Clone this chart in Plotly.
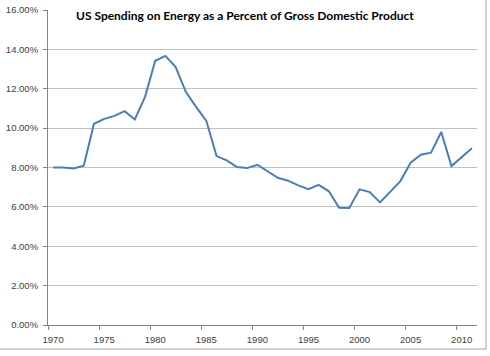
import plotly.graph_objects as go

years = list(range(1970, 2012))
energy_pct = [8.00, 8.00, 7.95, 8.09, 10.22, 10.47, 10.62, 10.86, 10.44, 11.59,
              13.42, 13.67, 13.10, 11.83, 11.08, 10.37, 8.58, 8.36, 8.02, 7.97,
              8.14, 7.83, 7.48, 7.33, 7.09, 6.90, 7.12, 6.79, 5.96, 5.94,
              6.89, 6.75, 6.23, 6.76, 7.31, 8.24, 8.65, 8.75, 9.80, 8.07,
              8.53, 8.98]
tick_years = [1970, 1975, 1980, 1985, 1990, 1995, 2000, 2005, 2010]
title_text = "US Spending on Energy as a Percent of Gross Domestic Product"

values = [v / 100 for v in energy_pct]

fig = go.Figure()
fig.add_trace(go.Scatter(x=years, y=values, mode="lines",
                         line=dict(color="#4A7EBB", width=2), showlegend=False))

W, H = 490, 356
l, r, t, b = 48, 13, 10, 31
pw, ph = W - l - r, H - t - b

fig.update_layout(
    width=W, height=H,
    margin=dict(l=l, r=r, t=t, b=b, autoexpand=False),
    paper_bgcolor="white", plot_bgcolor="white",
    font=dict(family="Liberation Sans, Arial, sans-serif", size=9.5, color="#404040"),
    annotations=[dict(text="<b>" + title_text + "</b>", xref="paper", yref="paper",
                      x=(245 - l) / pw, y=(H - b - 15) / ph, xanchor="center", yanchor="middle",
                      showarrow=False, font=dict(family="Lato, sans-serif", size=12, color="black"))],
    shapes=[
        dict(type="line", xref="paper", yref="paper",
             x0=(486 - l) / pw, x1=(486 - l) / pw, y0=(H - b - 349) / ph, y1=(H - b) / ph + 0.1,
             line=dict(color="#A0A0A0", width=1)),
        dict(type="line", xref="paper", yref="paper",
             x0=-l / pw - 0.1, x1=(486 - l) / pw, y0=(H - b - 349) / ph, y1=(H - b - 349) / ph,
             line=dict(color="#A0A0A0", width=1)),
    ],
)

fig.update_xaxes(
    range=[1969.5, 2011.5], tickvals=tick_years, ticktext=[str(y) for y in tick_years],
    ticks="", showgrid=False, zeroline=False, automargin=False, ticklabelstandoff=6,
    showline=True, linecolor="#868686", linewidth=1,
    minor=dict(tickvals=[y - 0.5 for y in tick_years], ticks="outside", ticklen=4,
               tickcolor="#868686", showgrid=False),
)
fig.update_yaxes(
    range=[0, 0.16], dtick=0.02, tickformat=".2%", automargin=False, ticklabelstandoff=3,
    showgrid=True, gridcolor="#BFBFBF", gridwidth=1, zeroline=False,
    showline=True, linecolor="#868686", linewidth=1,
    ticks="outside", ticklen=4, tickcolor="#868686",
)

fig.write_html("out.html", config={"displayModeBar": False},
               post_script="document.body.style.margin='0';document.body.style.overflow='hidden';")
